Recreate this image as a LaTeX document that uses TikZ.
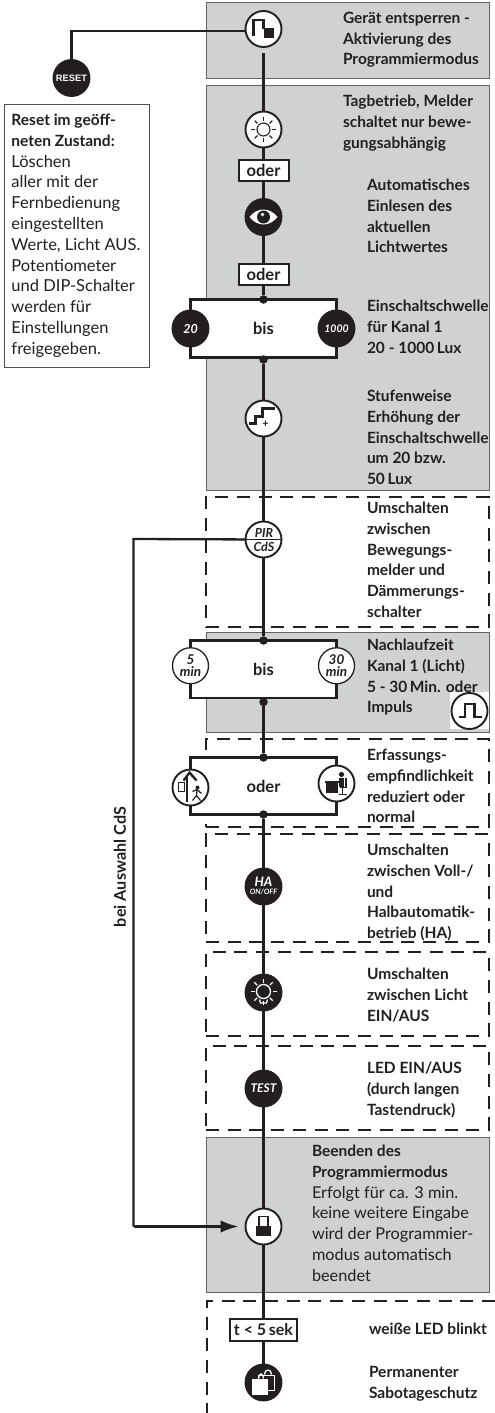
\documentclass[tikz,border=0pt]{standalone}
\usepackage{fontspec}
\setmainfont{Lato}
\newfontfamily\resetfont{Liberation Sans}
\usepackage{xcolor}
\usepackage{tikz}
\usetikzlibrary{arrows.meta,positioning}
\definecolor{panelgrey}{RGB}{208,209,211}
\definecolor{inkblack}{RGB}{35,31,32}
\begin{document}
\begin{tikzpicture}[
  x=1pt, y=-1pt,
  panel/.style={draw=inkblack!70, line width=0.9pt, fill=panelgrey, anchor=north west, inner sep=0pt, outer sep=0pt, minimum width=283pt},
  dashbox/.style={draw=inkblack, line width=2pt, dash pattern=on 13pt off 8.7pt, anchor=north west, inner sep=0pt, outer sep=0pt, minimum width=282.5pt},
  knob/.style={circle, draw=inkblack, line width=1.9pt, fill=white, minimum size=36pt, inner sep=0pt, outer sep=0pt, font=\bfseries\itshape\fontsize{12.5}{12.5}\selectfont, align=center, text=inkblack},
  blackknob/.style={knob, fill=inkblack, text=white},
  timeknob/.style={knob, line width=1.3pt, font=\bfseries\itshape\fontsize{13.5}{12}\selectfont},
  orbox/.style={draw=inkblack, line width=2pt, fill=white, minimum width=50pt, minimum height=20.5pt, inner sep=0pt, outer sep=0pt, font=\bfseries\fontsize{16.5}{18}\selectfont, text=inkblack},
  rangebox/.style={draw=inkblack, line width=2.2pt, fill=white, minimum width=146pt, minimum height=57.5pt, inner sep=0pt, outer sep=0pt, font=\bfseries\fontsize{16.5}{18}\selectfont, text=inkblack},
  dot/.style={circle, fill=inkblack, minimum size=8.5pt, inner sep=0pt, outer sep=0pt},
  note/.style={anchor=north west, align=left, inner sep=0pt, outer sep=0pt, text=inkblack, font=\bfseries\fontsize{15.5}{20.8}\selectfont},
  arrow/.style={line width=2.3pt, draw=inkblack},
  icon/.style={line width=2.3pt, draw=inkblack},
  whiteicon/.style={line width=1.3pt, draw=white}
]
\useasboundingbox (0,0) rectangle (495,1413);

\node[panel, minimum height=76pt] (panelA) at (206.5,2) {};
\node[panel, minimum height=405pt] (panelB) at (206.5,85) {};
\node[dashbox, minimum height=130pt] (dashA) at (206,497) {};
\node[panel, minimum height=99.5pt] (panelC) at (206.5,632.5) {};
\node[dashbox, minimum height=88pt] (dashB) at (206,739) {};
\node[dashbox, minimum height=108pt] (dashC) at (206,834) {};
\node[dashbox, minimum height=84pt] (dashD) at (206,952) {};
\node[dashbox, minimum height=84pt] (dashE) at (206,1046) {};
\node[panel, minimum height=155pt] (panelD) at (206.5,1137) {};

\node[knob] (unlock) at (263.5,29) {};
\node[knob, below=64.5pt of unlock] (sun) {};
\node[orbox, below=12.5pt of sun] (orA) {oder};
\node[blackknob, below=18.5pt of orA] (eye) {};
\node[orbox, below=29pt of eye] (orB) {oder};
\node[rangebox, below=15pt of orB, minimum height=58pt] (luxbox) {bis};
\node[knob, below=43pt of luxbox] (stair) {};
\node[knob, below=85pt of stair] (pir) {};
\node[rangebox, below=83pt of pir] (timebox) {bis};
\node[rangebox, below=59.5pt of timebox, minimum height=57pt] (sensbox) {oder};
\node[blackknob, below=54pt of sensbox] (ha) {};
\node[blackknob, below=70pt of ha] (lamp) {};
\node[blackknob, below=60pt of lamp] (testkey) {};
\node[knob, below=102pt of testkey] (lock) {};
\node[orbox, below=74.7pt of lock, minimum width=66.5pt, minimum height=21.3pt, font=\bfseries\fontsize{16}{18}\selectfont] (tshort) {t < 5\,sek};
\node[blackknob, below=24pt of tshort] (bag) {};

\node[dot] (dotA) at (luxbox.north) {};
\node[dot] (dotB) at ([yshift=-2pt]luxbox.south) {};
\node[dot] (dotC) at (timebox.north) {};
\node[dot] (dotD) at ([yshift=-4pt]timebox.south) {};
\node[dot] (dotE) at (sensbox.north) {};
\node[dot] (dotF) at (sensbox.south) {};

\node[blackknob] (low) at (luxbox.west) {20};
\node[blackknob] (high) at (luxbox.east) {\fontsize{10.5}{11}\selectfont 1000};
\node[timeknob] (fivemin) at ([yshift=3.5pt]timebox.west) {5\\min};
\node[timeknob] (thirtymin) at ([yshift=3.5pt]timebox.east) {30\\min};
\node[knob] (door) at ([yshift=-1.5pt]sensbox.west) {};
\node[knob] (desk) at ([yshift=2.5pt]sensbox.east) {};
\node[blackknob] (reset) at (71.5,78) {\resetfont\upshape\bfseries\fontsize{9.3}{10}\selectfont RESET};
\node[fill=white, minimum width=39pt, minimum height=37pt, inner sep=0pt] (pulseback) at (469.5,710.5) {};
\node[knob] (pulse) at (469.5,711) {};

\node[draw=inkblack!80, line width=0.9pt, fill=white, anchor=north west, inner sep=0pt, outer sep=0pt, minimum width=144.5pt, minimum height=263.5pt] (resetbox) at (4.5,104) {};
\node[note, font=\fontsize{16.5}{20.8}\selectfont] (resettext) at (11.5,114) {\fontsize{15.5}{20.8}\selectfont\textbf{Reset im geöff-}\\\fontsize{15.5}{20.8}\selectfont\textbf{neten Zustand:}\\Löschen\\aller mit der\\Fernbedienung\\eingestellten\\Werte, Licht AUS.\\Potentiometer\\und DIP-Schalter\\werden für\\Einstellungen\\freigegeben.};

\node[note] (noteA) at (343,12) {Gerät entsperren -\\Aktivierung des\\Programmiermodus};
\node[note] (noteB) at (343,95) {Tagbetrieb, Melder\\schaltet nur bewe-\\gungsabhängig};
\node[note] (noteC) at (367,179) {Automatisches\\Einlesen des\\aktuellen\\Lichtwertes};
\node[note] (noteD) at (367,300) {Einschaltschwelle\\für Kanal 1\\20 - 1000\,Lux};
\node[note] (noteE) at (367,390) {Stufenweise\\Erhöhung der\\Einschaltschwelle\\um 20 bzw.\\50\,Lux};
\node[note] (noteF) at (367,502) {Umschalten\\zwischen\\Bewegungs-\\melder und\\Dämmerungs-\\schalter};
\node[note] (noteG) at (367,639) {Nachlaufzeit\\Kanal 1 (Licht)\\5 - 30\,Min. oder\\Impuls};
\node[note] (noteH) at (367,749) {Erfassungs-\\empfindlichkeit\\reduziert oder\\normal};
\node[note] (noteI) at (367,844) {Umschalten\\zwischen Voll-/\\und\\Halbautomatik-\\betrieb (HA)};
\node[note] (noteJ) at (367,968) {Umschalten\\zwischen Licht\\EIN/AUS};
\node[note] (noteK) at (367,1062) {LED EIN/AUS\\(durch langen\\Tastendruck)};
\node[note] (noteL) at (312,1145) {Beenden des\\Programmiermodus\\\mdseries\fontsize{16.3}{20.8}\selectfont Erfolgt für ca. 3 min.\\\mdseries\fontsize{16.3}{20.8}\selectfont keine weitere Eingabe\\\mdseries\fontsize{16.3}{20.8}\selectfont wird der Programmier-\\\mdseries\fontsize{16.3}{20.8}\selectfont modus automatisch\\\mdseries\fontsize{16.3}{20.8}\selectfont beendet};
\node[note] (noteM) at (369,1323) {weiße LED blinkt};
\node[note] (noteN) at (369,1366) {Permanenter\\Sabotageschutz};
\node[rotate=90, text=inkblack, inner sep=0pt, font=\bfseries\fontsize{16.2}{18}\selectfont] (cdslabel) at (120,867) {bei Auswahl CdS};

\coordinate (gap) at (263.5,53);
\coordinate (bend) at (133.5,539);
\coordinate (sabA) at (495,1300.7);
\coordinate (sabB) at (207,1300.7);
\coordinate (sabC) at (207,1413);

\draw[arrow] (reset) |- ([yshift=-2pt]unlock.west);
\draw[arrow] (gap) -- (sun);
\draw[arrow] (sun) -- (orA);
\draw[arrow] (orA) -- (eye);
\draw[arrow] (eye) -- (orB);
\draw[arrow] (orB) -- (dotA);
\draw[arrow] (dotB) -- (stair);
\draw[arrow] (stair) -- (pir);
\draw[arrow] (pir) -- (dotC);
\draw[arrow] (dotD) -- (dotE);
\draw[arrow] (dotF) -- (ha);
\draw[arrow] (ha) -- (lamp);
\draw[arrow] (lamp) -- (testkey);
\draw[arrow] (testkey) -- (lock);
\draw[arrow] (lock) -- (tshort);
\draw[arrow] (tshort) -- (bag);
\draw[arrow] (pir) -- (bend) -- (bend |- lock);
\draw[arrow, -{Latex[length=18pt,width=12.5pt]}, shorten >=7pt] (bend |- lock) -- (lock);
\draw[line width=2pt, draw=inkblack, dash pattern=on 13pt off 8.7pt] (sabA) -- (sabB) -- (sabC);

% icons
\begin{scope}[shift={(unlock.center)}]
  \draw[icon] (-10,7) -- (-10,-9) -- (0,-9) -- (0,0);
  \fill[inkblack] (0,-1) rectangle (10.5,9.5);
\end{scope}
\begin{scope}[shift={(sun.center)}]
  \draw[draw=inkblack, line width=1.1pt] (0,0) circle (6.5);
  \foreach \a in {0,45,...,315} \draw[draw=inkblack, line width=1.1pt] (\a:8.5) -- (\a:12.5);
\end{scope}
\begin{scope}[shift={(eye.center)}]
  \fill[white] (-14,0) .. controls (-6,-10) and (6,-10) .. (14,0) .. controls (6,10) and (-6,10) .. (-14,0);
  \fill[inkblack] (0,0) circle (6.5);
  \fill[white] (-1,-2.5) circle (1.8);
\end{scope}
\begin{scope}[shift={(stair.center)}]
  \draw[icon, line width=3pt] (-14.7,5) -- (-8,5) -- (-8,-2.3) -- (-0.7,-2.3) -- (-0.7,-10) -- (11,-10);
  \node[inkblack, inner sep=0pt, font=\bfseries\fontsize{11}{11}\selectfont] (plus) at (2,6) {+};
\end{scope}
\begin{scope}[shift={(pir.center)}]
  \draw[icon, line width=1.6pt] (-18,0) -- (18,0);
  \node[inkblack, inner sep=0pt, font=\bfseries\itshape\fontsize{12.5}{12.5}\selectfont] (pirtext) at (0.5,-6.5) {PIR};
  \node[inkblack, inner sep=0pt, font=\bfseries\itshape\fontsize{12.5}{12.5}\selectfont] (cdstext) at (0.5,7.5) {CdS};
\end{scope}
\begin{scope}[shift={(pulse.center)}]
  \draw[icon] (-11,6.3) -- (-4.7,6.3) -- (-4.7,-7) -- (5,-7) -- (5,6.3) -- (12,6.3);
\end{scope}
\begin{scope}[shift={(door.center)}]
  \draw[draw=inkblack, line width=1pt] (-12.5,-5) rectangle (-6.5,3.5);
  \fill[inkblack] (-4.5,-11) rectangle (-2.5,14);
  \draw[icon] (-7,-7) -- (-1,-15) -- (6,-7);
  \fill[inkblack] (7,0) circle (2);
  \draw[draw=inkblack, line width=1.2pt] (6.5,2) -- (6,8) -- (2,13) (6,8) -- (10,13) (2,4) -- (6.5,2) -- (11,6);
\end{scope}
\begin{scope}[shift={(desk.center)}]
  \fill[inkblack] (-10.5,-1) rectangle (1.5,9);
  \draw[icon, line width=1.2pt] (-12,-1.5) -- (6,-1.5);
  \fill[inkblack] (5,-9) circle (2.6);
  \fill[inkblack] (2.5,-6) rectangle (7,3);
  \draw[draw=inkblack, line width=1.1pt] (9.5,-6) -- (9.5,4) -- (3,4) (6,4) -- (6,11) (2,11) -- (10,11);
\end{scope}
\begin{scope}[shift={(ha.center)}]
  \node[white, inner sep=0pt, font=\bfseries\itshape\fontsize{13}{13}\selectfont] (hatext) at (0,-5) {HA};
  \node[white, inner sep=0pt, font=\bfseries\itshape\fontsize{7.4}{8}\selectfont] (onofftext) at (0,5) {ON/OFF};
\end{scope}
\begin{scope}[shift={(lamp.center)}]
  \draw[whiteicon] (0,-1) circle (7);
  \foreach \a in {-90,-45,...,225} \draw[whiteicon] ([shift={(0,-1)}]\a:9) -- ([shift={(0,-1)}]\a:13);
  \draw[whiteicon] (-4,7) -- (-3,10.5) -- (3,10.5) -- (4,7);
\end{scope}
\node[white, inner sep=0pt, font=\bfseries\itshape\fontsize{12}{12}\selectfont] (testtext) at (testkey.center) {TEST};
\begin{scope}[shift={(lock.center)}]
  \draw[draw=inkblack, line width=1.4pt] (-4.7,0) -- (-4.7,-10) -- (4.3,-10) -- (4.3,0);
  \fill[inkblack] (-7.5,-1) rectangle (7.2,9);
\end{scope}
\begin{scope}[shift={(bag.center)}]
  \draw[whiteicon] (-5,-4) .. controls (-5,-10) and (0,-10) .. (0,-4);
  \draw[whiteicon] (1,-8) .. controls (1,-14) and (8,-14) .. (8,-8);
  \draw[whiteicon] (-5,-7) rectangle (11,8);
  \fill[white] (-12,-4) rectangle (4.5,12);
\end{scope}
\end{tikzpicture}
\end{document}
